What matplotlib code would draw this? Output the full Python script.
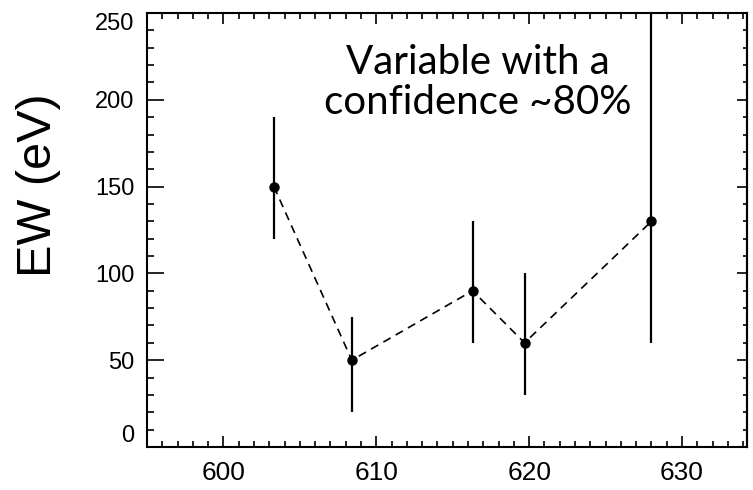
import matplotlib

matplotlib.use("Agg")
import matplotlib.pyplot as plt
from matplotlib.ticker import MultipleLocator

# 데이터
x_vals = [603.3, 608.4, 616.3, 619.7, 628.0]
ew_vals = [150, 50, 90, 60, 130]
err_low = [30, 30, 30, 30, 70]
err_high = [40, 25, 40, 40, 150]

x_ticks = [600, 610, 620, 630]
y_ticks = [0, 50, 100, 150, 200, 250]

fig = plt.figure(figsize=(7.53, 4.90), dpi=100)
ax = fig.add_axes([147 / 753, 43 / 490, 600 / 753, 434 / 490])

ax.errorbar(x_vals, ew_vals, yerr=[err_low, err_high], fmt="none",
            ecolor="black", elinewidth=1.6, capsize=0)
ax.plot(x_vals, ew_vals, color="black", linestyle="--", linewidth=1.2,
        dashes=(5, 3.5), marker="o", markersize=6.5)

ax.set_xlim(595, 634.25)
ax.set_ylim(0, 250)

ax.set_xticks(x_ticks)
ax.set_yticks(y_ticks)
ax.xaxis.set_minor_locator(MultipleLocator(1))
ax.yaxis.set_minor_locator(MultipleLocator(10))

for s in ax.spines.values():
    s.set_linewidth(1.5)

ax.tick_params(axis="x", which="both", direction="in", top=True, width=1.2)
ax.tick_params(axis="x", which="major", length=8, pad=10)
ax.tick_params(axis="x", which="minor", length=4)
ax.tick_params(axis="y", which="both", direction="in", right=False, width=1.2)
ax.tick_params(axis="y", which="major", length=12, pad=9)
ax.tick_params(axis="y", which="minor", length=5)

# 오른쪽 눈금은 짧게
ax2 = ax.secondary_yaxis("right")
ax2.set_yticks(y_ticks)
ax2.yaxis.set_minor_locator(MultipleLocator(10))
ax2.tick_params(which="both", direction="in", labelright=False, width=1.2)
ax2.tick_params(which="major", length=7)
ax2.tick_params(which="minor", length=3)
ax2.spines["right"].set_linewidth(1.5)

for lab in ax.get_xticklabels():
    lab.set_fontfamily("Liberation Sans")
    lab.set_fontsize(19)
ylabs = ax.get_yticklabels()
for lab in ylabs:
    lab.set_fontfamily("Liberation Sans")
    lab.set_fontsize(17)
ylabs[0].set_verticalalignment("bottom")
ylabs[-1].set_verticalalignment("top")

fig.text(39 / 753, 1 - 185 / 490, "EW (eV)", rotation=90, ha="center",
         va="center", fontsize=35, family="Liberation Sans")

ax.text(478 / 753, 1 - 83 / 490, "Variable with a\nconfidence ~80%",
        transform=fig.transFigure, ha="center", va="center",
        fontsize=29, family="Lato", linespacing=1.1)

fig.savefig("out.png", dpi=100)
